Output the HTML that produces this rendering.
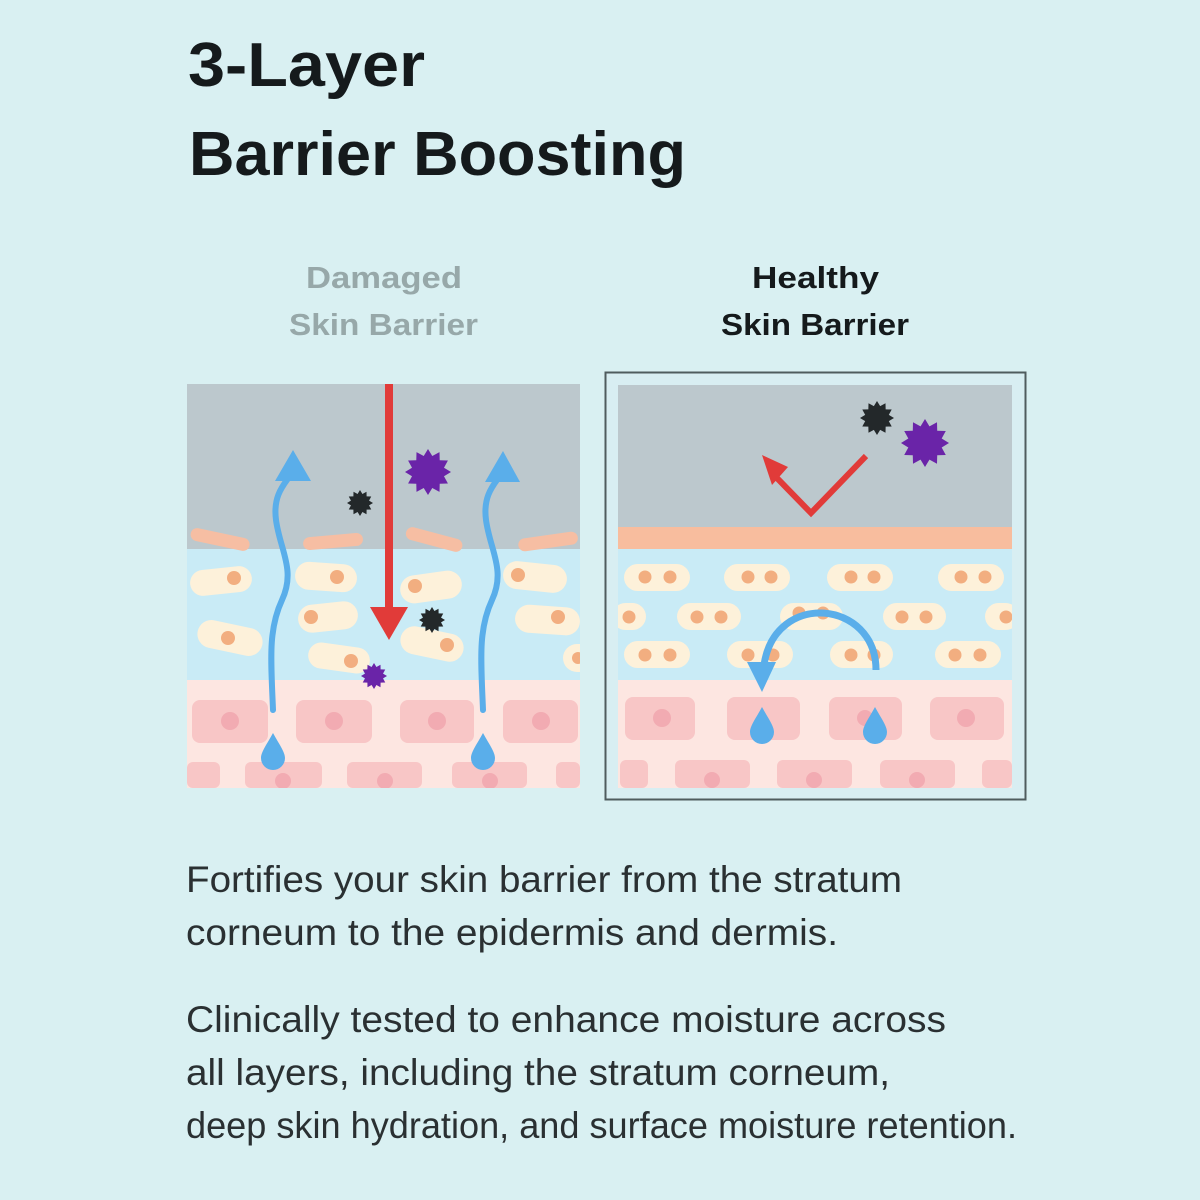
<!DOCTYPE html>
<html><head><meta charset="utf-8"><style>
html,body{margin:0;padding:0;background:#d9f0f2;}
svg{display:block;}
text{font-family:"Liberation Sans",sans-serif;}
</style></head><body>
<svg width="1200" height="1200" viewBox="0 0 1200 1200" xmlns="http://www.w3.org/2000/svg">
<defs>
<polygon id="star" points="1,0 .695,.186 .866,.5 .509,.509 .5,.866 .186,.695 0,1 -.186,.695 -.5,.866 -.509,.509 -.866,.5 -.695,.186 -1,0 -.695,-.186 -.866,-.5 -.509,-.509 -.5,-.866 -.186,-.695 0,-1 .186,-.695 .5,-.866 .509,-.509 .866,-.5 .695,-.186"/>
<clipPath id="cl"><rect x="187" y="384" width="393" height="404"/></clipPath>
<clipPath id="cr"><rect x="618" y="385" width="394" height="403"/></clipPath>
</defs>
<rect width="1200" height="1200" fill="#d9f0f2"/>
<text x="188" y="86" font-size="62" font-weight="bold" fill="#151a1c" textLength="237" lengthAdjust="spacingAndGlyphs">3-Layer</text>
<text x="189" y="175" font-size="62" font-weight="bold" fill="#151a1c" textLength="497" lengthAdjust="spacingAndGlyphs">Barrier Boosting</text>
<text x="306" y="288" font-size="31" font-weight="bold" fill="#97a8a9" textLength="156" lengthAdjust="spacingAndGlyphs">Damaged</text>
<text x="289" y="335" font-size="31" font-weight="bold" fill="#97a8a9" textLength="189" lengthAdjust="spacingAndGlyphs">Skin Barrier</text>
<text x="752" y="288" font-size="31" font-weight="bold" fill="#151a1c" textLength="127" lengthAdjust="spacingAndGlyphs">Healthy</text>
<text x="721" y="335" font-size="31" font-weight="bold" fill="#151a1c" textLength="188" lengthAdjust="spacingAndGlyphs">Skin Barrier</text>

<!-- LEFT PANEL -->
<g clip-path="url(#cl)">
<rect x="187" y="384" width="393" height="166" fill="#bcc8cd"/>
<rect x="187" y="549" width="393" height="132" fill="#c9ebf6"/>
<rect x="187" y="680" width="393" height="108" fill="#fde6e1"/>
<g fill="#f6bea3">
<rect x="190" y="533" width="60" height="13" rx="6.5" transform="rotate(12 220 540)"/>
<rect x="303" y="535" width="60" height="13" rx="6.5" transform="rotate(-5 333 541)"/>
<rect x="405" y="533" width="58" height="13" rx="6.5" transform="rotate(15 434 540)"/>
<rect x="518" y="535" width="60" height="13" rx="6.5" transform="rotate(-8 548 541)"/>
</g>
<g fill="#fdf1da">
<rect x="190" y="568" width="62" height="26" rx="13" transform="rotate(-6 221 581)"/>
<rect x="295" y="563" width="62" height="28" rx="14" transform="rotate(4 326 577)"/>
<rect x="400" y="573" width="62" height="28" rx="14" transform="rotate(-8 431 587)"/>
<rect x="503" y="563" width="64" height="28" rx="14" transform="rotate(6 535 577)"/>
<rect x="298" y="603" width="60" height="28" rx="14" transform="rotate(-6 328 617)"/>
<rect x="197" y="624" width="66" height="28" rx="14" transform="rotate(12 230 638)"/>
<rect x="308" y="645" width="62" height="26" rx="13" transform="rotate(8 339 658)"/>
<rect x="400" y="630" width="64" height="28" rx="14" transform="rotate(12 432 644)"/>
<rect x="515" y="606" width="65" height="28" rx="14" transform="rotate(4 547 620)"/>
<rect x="563" y="644" width="30" height="28" rx="14"/>
</g>
<g fill="#f2ae80">
<circle cx="234" cy="578" r="7"/><circle cx="337" cy="577" r="7"/><circle cx="415" cy="586" r="7"/>
<circle cx="518" cy="575" r="7"/><circle cx="311" cy="617" r="7"/><circle cx="228" cy="638" r="7"/>
<circle cx="351" cy="661" r="7"/><circle cx="447" cy="645" r="7"/><circle cx="558" cy="617" r="7"/><circle cx="578" cy="658" r="6"/>
</g>
<g fill="#f8c6c6">
<rect x="192" y="700" width="76" height="43" rx="8"/><rect x="296" y="700" width="76" height="43" rx="8"/>
<rect x="400" y="700" width="74" height="43" rx="8"/><rect x="503" y="700" width="75" height="43" rx="8"/>
<rect x="187" y="762" width="33" height="26" rx="6"/><rect x="245" y="762" width="77" height="26" rx="6"/>
<rect x="347" y="762" width="75" height="26" rx="6"/><rect x="452" y="762" width="75" height="26" rx="6"/>
<rect x="556" y="762" width="24" height="26" rx="6"/>
</g>
<g fill="#f2abb2">
<circle cx="230" cy="721" r="9"/><circle cx="334" cy="721" r="9"/><circle cx="437" cy="721" r="9"/><circle cx="541" cy="721" r="9"/>
<circle cx="283" cy="781" r="8"/><circle cx="385" cy="781" r="8"/><circle cx="490" cy="781" r="8"/>
</g>
<g fill="none" stroke="#5aaeea" stroke-width="6" stroke-linecap="round">
<path d="M273,710 C271,660 268,630 282,600 C296,570 280,550 276,520 C272,490 290,480 293,470"/>
<path d="M483,710 C481,660 478,630 492,600 C506,570 490,550 486,520 C482,490 500,480 503,470"/>
</g>
<g fill="#5aaeea">
<polygon points="293,450 275,481 311,481"/>
<polygon points="503,451 485,482 520,482"/>
<path d="M273,733 C267,744 261,752 261,758 A12,12 0 0 0 285,758 C285,752 279,744 273,733 Z"/>
<path d="M483,733 C477,744 471,752 471,758 A12,12 0 0 0 495,758 C495,752 489,744 483,733 Z"/>
</g>
<rect x="385" y="384" width="8" height="224" fill="#e13b39"/>
<polygon points="370,607 408,607 389,640" fill="#e13b39"/>
<use href="#star" fill="#6a24a8" transform="translate(428 472) scale(23)"/>
<use href="#star" fill="#23282a" transform="translate(360 503) scale(13)"/>
<use href="#star" fill="#23282a" transform="translate(432 620) scale(13)"/>
<use href="#star" fill="#6a24a8" transform="translate(374 676) scale(13)"/>
</g>

<!-- RIGHT PANEL -->
<rect x="605.5" y="372.5" width="420" height="427" fill="#d8eef2" stroke="#4f5c5e" stroke-width="2"/>
<g clip-path="url(#cr)">
<rect x="618" y="385" width="394" height="142" fill="#bcc8cd"/>
<rect x="618" y="527" width="394" height="22" fill="#f8bd9e"/>
<rect x="618" y="549" width="394" height="131" fill="#c9ebf6"/>
<rect x="618" y="680" width="394" height="108" fill="#fde6e1"/>
<g fill="#fdf1da">
<rect x="624" y="564" width="66" height="27" rx="13.5"/><rect x="724" y="564" width="66" height="27" rx="13.5"/>
<rect x="827" y="564" width="66" height="27" rx="13.5"/><rect x="938" y="564" width="66" height="27" rx="13.5"/>
<rect x="612" y="603" width="34" height="27" rx="13.5"/><rect x="677" y="603" width="64" height="27" rx="13.5"/>
<rect x="780" y="603" width="63" height="27" rx="13.5"/><rect x="883" y="603" width="63" height="27" rx="13.5"/>
<rect x="985" y="603" width="34" height="27" rx="13.5"/>
<rect x="624" y="641" width="66" height="27" rx="13.5"/><rect x="727" y="641" width="66" height="27" rx="13.5"/>
<rect x="830" y="641" width="63" height="27" rx="13.5"/><rect x="935" y="641" width="66" height="27" rx="13.5"/>
</g>
<g fill="#f2ae80">
<circle cx="645" cy="577" r="6.5"/><circle cx="670" cy="577" r="6.5"/>
<circle cx="748" cy="577" r="6.5"/><circle cx="771" cy="577" r="6.5"/>
<circle cx="851" cy="577" r="6.5"/><circle cx="874" cy="577" r="6.5"/>
<circle cx="961" cy="577" r="6.5"/><circle cx="985" cy="577" r="6.5"/>
<circle cx="629" cy="617" r="6.5"/>
<circle cx="697" cy="617" r="6.5"/><circle cx="721" cy="617" r="6.5"/>
<circle cx="799" cy="613" r="6.5"/><circle cx="823" cy="613" r="6.5"/>
<circle cx="902" cy="617" r="6.5"/><circle cx="926" cy="617" r="6.5"/>
<circle cx="1006" cy="617" r="6.5"/>
<circle cx="645" cy="655" r="6.5"/><circle cx="670" cy="655" r="6.5"/>
<circle cx="748" cy="655" r="6.5"/><circle cx="773" cy="655" r="6.5"/>
<circle cx="851" cy="655" r="6.5"/><circle cx="874" cy="655" r="6.5"/>
<circle cx="955" cy="655" r="6.5"/><circle cx="980" cy="655" r="6.5"/>
</g>
<g fill="#f8c6c6">
<rect x="625" y="697" width="70" height="43" rx="8"/><rect x="727" y="697" width="73" height="43" rx="8"/>
<rect x="829" y="697" width="73" height="43" rx="8"/><rect x="930" y="697" width="74" height="43" rx="8"/>
<rect x="620" y="760" width="28" height="28" rx="6"/><rect x="675" y="760" width="75" height="28" rx="6"/>
<rect x="777" y="760" width="75" height="28" rx="6"/><rect x="880" y="760" width="75" height="28" rx="6"/>
<rect x="982" y="760" width="30" height="28" rx="6"/>
</g>
<g fill="#f2abb2">
<circle cx="662" cy="718" r="9"/><circle cx="966" cy="718" r="9"/><circle cx="865" cy="718" r="8"/>
<circle cx="712" cy="780" r="8"/><circle cx="814" cy="780" r="8"/><circle cx="917" cy="780" r="8"/>
</g>
<polyline points="866,456 811,513 775,476" fill="none" stroke="#e13b39" stroke-width="6"/>
<polygon points="762,455 788,467 772,485" fill="#e13b39"/>
<use href="#star" fill="#23282a" transform="translate(877 418) scale(17)"/>
<use href="#star" fill="#6a24a8" transform="translate(925 443) scale(24)"/>
<path d="M876,670 C876,600 775,590 764,665" fill="none" stroke="#5aaeea" stroke-width="7"/>
<polygon points="747,662 776,662 762,692" fill="#5aaeea"/>
<g fill="#5aaeea">
<path d="M762,707 C756,718 750,726 750,732 A12,12 0 0 0 774,732 C774,726 768,718 762,707 Z"/>
<path d="M875,707 C869,718 863,726 863,732 A12,12 0 0 0 887,732 C887,726 881,718 875,707 Z"/>
</g>
</g>

<g font-size="37" fill="#2a3032">
<text x="186" y="892" textLength="716" lengthAdjust="spacingAndGlyphs">Fortifies your skin barrier from the stratum</text>
<text x="186" y="945" textLength="652" lengthAdjust="spacingAndGlyphs">corneum to the epidermis and dermis.</text>
<text x="186" y="1032" textLength="760" lengthAdjust="spacingAndGlyphs">Clinically tested to enhance moisture across</text>
<text x="186" y="1085" textLength="704" lengthAdjust="spacingAndGlyphs">all layers, including the stratum corneum,</text>
<text x="186" y="1138" textLength="831" lengthAdjust="spacingAndGlyphs">deep skin hydration, and surface moisture retention.</text>
</g>
</svg>
</body></html>
